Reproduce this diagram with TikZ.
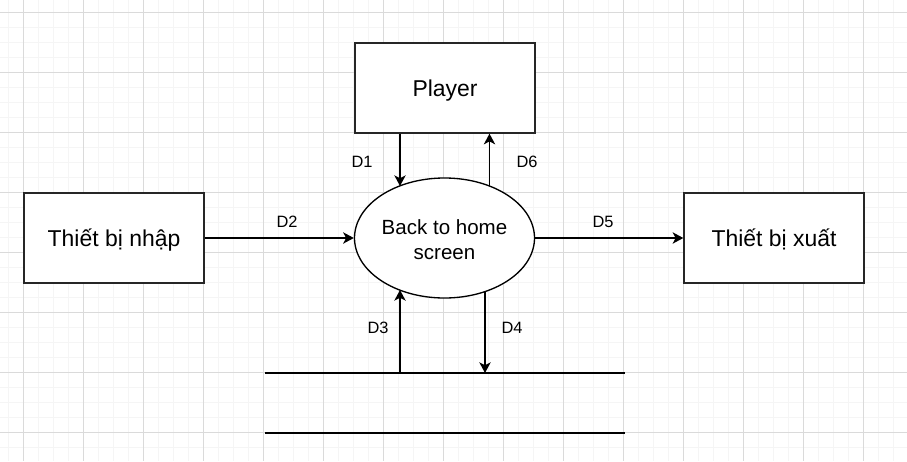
\documentclass[tikz,border=0pt]{standalone}
\usepackage{fontspec}
\setmainfont{Liberation Sans}
\usetikzlibrary{arrows.meta,shapes.geometric}
\definecolor{gridminor}{RGB}{245,245,245}
\definecolor{gridmajor}{RGB}{218,218,218}
\begin{document}
\begin{tikzpicture}[x=0.75pt,y=-0.75pt,
  box/.style={draw=black!85,line width=1pt,fill=white,minimum width=135pt,minimum height=67.5pt,inner sep=0pt,text height=15.76pt,text depth=3.44pt,font=\fontsize{17.2}{20}\selectfont},
  proc/.style={ellipse,draw=black,line width=1pt,fill=white,minimum width=135pt,minimum height=90pt,inner sep=0pt},
  proctext/.style={inner sep=0pt,align=center,font=\fontsize{15.4}{18.75}\selectfont},
  arr/.style={line width=1pt,-{Stealth[length=8pt,width=8.5pt,inset=2.2pt]}},
  lbl/.style={font=\fontsize{12.3}{14}\selectfont,inner sep=0pt},
  store/.style={line width=1pt}]
\useasboundingbox (0,0) rectangle (907,461);
\fill[white] (0,0) rectangle (907,461);
% grid
\foreach \x in {8,23,...,907} \draw[gridminor,line width=0.75pt] (\x,0) -- (\x,461);
\foreach \y in {12,27,...,461} \draw[gridminor,line width=0.75pt] (0,\y) -- (907,\y);
\foreach \x in {23,83,...,907} \draw[gridmajor,line width=0.75pt] (\x,0) -- (\x,461);
\foreach \y in {12,72,...,461} \draw[gridmajor,line width=0.75pt] (0,\y) -- (907,\y);
% nodes
\node[box] (player) at (445,88) {Player};
\node[box] (in) at (114,238) {Thiết bị nhập};
\node[box] (out) at (774,238) {Thiết bị xuất};
\node[proc] (p) at (444.5,238) {};
\node[proctext] (ptext) at ([yshift=-1.5pt]p.center) {Back to home\\screen};
% store lines
\coordinate (s1a) at (265,373);
\coordinate (s1b) at (625,373);
\coordinate (s2a) at (265,433);
\coordinate (s2b) at (625,433);
\draw[store] (s1a) -- (s1b);
\draw[store] (s2a) -- (s2b);
% ellipse contact points
\coordinate (p1) at (400,186);
\coordinate (p6) at (489.5,186);
\coordinate (p3) at (400,290);
\coordinate (p4) at (485,291.6);
% connectors
\draw[arr] (player.south -| p1) -- (p1);
\draw[arr] (p6) -- (player.south -| p6);
\draw[arr] (in.east) -- (p.west);
\draw[arr] (p.east) -- (out.west);
\draw[arr] (p3 |- s1a) -- (p3);
\draw[arr] (p4) -- (p4 |- s1a);
% labels
\node[lbl] (l1) at (362,162) {D1};
\node[lbl] (l6) at (527,162) {D6};
\node[lbl] (l2) at (287,222) {D2};
\node[lbl] (l5) at (603,222) {D5};
\node[lbl] (l3) at (378,328) {D3};
\node[lbl] (l4) at (512,328) {D4};
\end{tikzpicture}
\end{document}
